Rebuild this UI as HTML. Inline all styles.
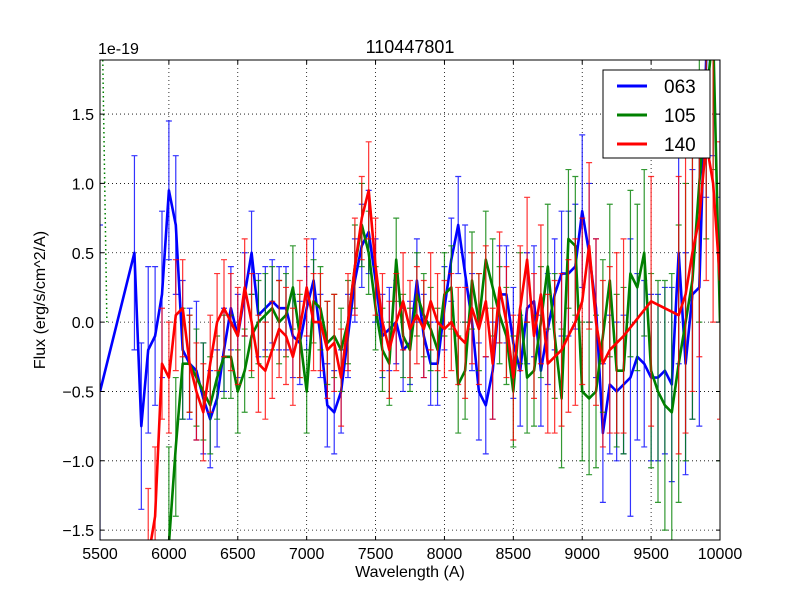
<!DOCTYPE html>
<html><head><meta charset="utf-8">
<style>
html,body{margin:0;padding:0;background:#fff;overflow:hidden;width:800px;height:600px;font-family:"Liberation Sans",sans-serif;}
svg{display:block;}
svg text{font-family:"Liberation Sans",sans-serif;}
</style></head>
<body>
<svg id="chart" width="800" height="600">
<defs><clipPath id="pc"><rect x="100" y="60" width="620" height="480"/></clipPath></defs>
<rect x="0" y="0" width="800" height="600" fill="#fff"/>
<g id="grid"></g>
<g id="series" clip-path="url(#pc)"></g>
<rect x="100" y="60" width="620" height="480" fill="none" stroke="#000" stroke-width="1"/>
<g id="ticks"></g>
<text x="410" y="53" text-anchor="middle" font-size="18">110447801</text>
<text x="98" y="54" font-size="16">1e-19</text>
<text x="410" y="577" text-anchor="middle" font-size="16">Wavelength (A)</text>
<text transform="translate(45,300) rotate(-90)" text-anchor="middle" font-size="16">Flux (erg/s/cm^2/A)</text>
<g>
<rect x="603" y="70" width="107" height="88" fill="#fff" stroke="#000"/>
<line x1="617" y1="86" x2="647" y2="86" stroke="#0000ff" stroke-width="3"/>
<text x="664" y="93" font-size="19">063</text>
<line x1="617" y1="115" x2="647" y2="115" stroke="#008000" stroke-width="3"/>
<text x="664" y="122" font-size="19">105</text>
<line x1="617" y1="144" x2="647" y2="144" stroke="#ff0000" stroke-width="3"/>
<text x="664" y="151" font-size="19">140</text>
</g>
</svg>
<script>
const xTicks=[5500,6000,6500,7000,7500,8000,8500,9000,9500,10000];
const yTicks=[-1.5,-1.0,-0.5,0.0,0.5,1.0,1.5];
const yTickLabels=["\u22121.5","\u22121.0","\u22120.5","0.0","0.5","1.0","1.5"];
const wave063=[5500,5750,5800,5850,5900,5950,6000,6050,6100,6150,6200,6250,6300,6350,6400,6450,6500,6550,6600,6650,6700,6750,6800,6850,6900,6950,7000,7050,7100,7150,7200,7250,7300,7350,7400,7450,7500,7550,7600,7650,7700,7750,7800,7850,7900,7950,8000,8050,8100,8150,8200,8250,8300,8350,8400,8450,8500,8550,8600,8650,8700,8750,8800,8850,8900,8950,9000,9050,9100,9150,9200,9250,9300,9350,9400,9450,9500,9550,9600,9650,9700,9750,9800,9850,9900,9950,10000];
const flux063=[-0.5,0.5,-0.75,-0.2,-0.1,0.2,0.95,0.7,-0.2,-0.3,-0.35,-0.55,-0.7,-0.55,-0.2,0.1,-0.1,0.2,0.5,0.05,0.1,0.15,0.1,0.1,-0.1,-0.15,0.1,0.3,-0.1,-0.6,-0.65,-0.5,-0.1,0.3,0.55,0.65,0.3,-0.1,-0.05,0.0,-0.2,-0.15,0.3,-0.1,-0.3,-0.3,0.1,0.45,0.7,0.35,0.0,-0.5,-0.6,-0.35,0.2,0.2,-0.15,-0.35,0.1,0.15,-0.35,-0.05,0.2,0.35,0.35,0.4,0.8,0.5,0.1,-0.8,-0.45,-0.5,-0.45,-0.4,-0.25,-0.3,-0.4,-0.4,-0.35,-0.45,0.5,-0.3,0.2,0.25,1.9,2.2,1.9];
const err063=[1.2,0.7,0.6,0.6,0.5,0.6,0.5,0.5,0.5,0.4,0.5,0.4,0.35,0.35,0.3,0.3,0.3,0.3,0.3,0.3,0.3,0.3,0.3,0.3,0.3,0.3,0.3,0.3,0.3,0.3,0.3,0.3,0.3,0.3,0.3,0.3,0.3,0.3,0.3,0.3,0.3,0.3,0.3,0.3,0.3,0.3,0.3,0.3,0.35,0.35,0.35,0.35,0.35,0.35,0.35,0.35,0.4,0.4,0.4,0.4,0.4,0.4,0.4,0.45,0.45,0.45,0.55,0.5,0.5,0.5,0.5,0.5,0.5,1.0,0.6,0.6,0.6,0.6,0.6,0.7,0.8,0.8,0.9,1.0,1.0,1.0,1.0];
const wave105=[5950,6000,6050,6100,6150,6200,6250,6300,6350,6400,6450,6500,6550,6600,6650,6700,6750,6800,6850,6900,6950,7000,7050,7100,7150,7200,7250,7300,7350,7400,7450,7500,7550,7600,7650,7700,7750,7800,7850,7900,7950,8000,8050,8100,8150,8200,8250,8300,8350,8400,8450,8500,8550,8600,8650,8700,8750,8800,8850,8900,8950,9000,9050,9100,9150,9200,9250,9300,9350,9400,9450,9500,9550,9600,9650,9700,9750,9800,9850,9900,9950,10000];
const flux105=[-2.5,-1.6,-0.9,-0.3,-0.3,-0.4,-0.5,-0.6,-0.4,-0.25,-0.25,-0.5,-0.35,-0.1,0.0,0.05,0.1,0.0,0.05,0.25,-0.1,-0.5,0.15,0.1,-0.15,-0.1,-0.2,0.0,0.4,0.7,0.5,0.1,-0.2,-0.3,0.45,-0.1,-0.2,0.2,0.05,-0.05,-0.2,0.2,0.25,-0.45,-0.35,0.3,0.0,0.45,0.25,0.05,-0.1,-0.5,0.1,-0.4,-0.35,0.0,0.4,-0.1,-0.55,0.6,0.55,-0.5,-0.55,-0.5,-0.1,0.3,-0.35,-0.35,0.35,0.25,0.5,-0.35,-0.5,-0.6,-0.65,-0.3,0.0,0.3,1.0,1.6,2.1,0.0];
const err105=[0.9,0.7,0.5,0.4,0.35,0.35,0.35,0.35,0.3,0.3,0.3,0.3,0.3,0.3,0.3,0.3,0.3,0.3,0.3,0.3,0.3,0.3,0.3,0.3,0.3,0.3,0.3,0.3,0.3,0.3,0.3,0.3,0.3,0.3,0.3,0.3,0.3,0.3,0.3,0.3,0.3,0.3,0.3,0.35,0.35,0.35,0.35,0.35,0.35,0.35,0.35,0.4,0.4,0.4,0.4,0.4,0.45,0.45,0.5,0.5,0.5,0.5,0.55,0.55,0.55,0.55,0.55,0.6,0.6,0.6,0.6,0.7,0.8,0.9,1.0,1.0,1.0,1.0,1.0,1.0,1.0,1.0];
const wave140=[5850,5900,5950,6000,6050,6100,6150,6200,6250,6300,6350,6400,6450,6500,6550,6600,6650,6700,6750,6800,6850,6900,6950,7000,7050,7100,7150,7200,7250,7300,7350,7400,7450,7500,7550,7600,7650,7700,7750,7800,7850,7900,7950,8000,8050,8100,8150,8200,8250,8300,8350,8400,8450,8500,8550,8600,8650,8700,8750,8800,8850,8900,8950,9000,9050,9100,9150,9200,9250,9300,9500,9700,9750,9800,9850,9900,9950,10000];
const flux140=[-1.7,-1.4,-0.3,-0.4,0.05,0.1,-0.3,-0.5,-0.65,-0.3,0.0,0.1,0.0,-0.1,0.25,0.0,-0.3,-0.35,-0.2,-0.05,-0.1,-0.25,-0.05,0.25,0.0,0.0,-0.2,-0.15,-0.4,0.0,0.4,0.75,0.95,0.4,0.0,-0.2,0.0,0.15,-0.05,0.05,-0.05,0.15,0.0,-0.05,0.0,-0.1,-0.15,0.1,-0.05,0.15,-0.3,0.25,0.0,-0.4,0.1,0.45,-0.1,0.2,-0.3,-0.25,-0.2,-0.1,0.0,0.15,0.55,0.0,-0.3,-0.2,-0.15,-0.1,0.15,0.05,0.2,0.5,0.75,1.3,1.0,0.3];
const err140=[0.5,0.5,0.4,0.4,0.4,0.35,0.35,0.35,0.35,0.35,0.35,0.35,0.35,0.35,0.35,0.35,0.35,0.35,0.35,0.35,0.35,0.35,0.35,0.35,0.35,0.35,0.35,0.35,0.35,0.35,0.35,0.3,0.35,0.35,0.35,0.35,0.35,0.35,0.35,0.35,0.35,0.35,0.35,0.35,0.35,0.35,0.4,0.4,0.4,0.4,0.4,0.4,0.4,0.45,0.45,0.45,0.45,0.5,0.5,0.55,0.55,0.55,0.6,0.6,0.6,0.6,0.6,0.6,0.65,0.7,0.9,1.0,1.0,1.0,1.0,1.0,1.0,1.0];

const NS='http://www.w3.org/2000/svg';
const X0=5500,X1=10000,PX0=100,PX1=720,YMIN=-1.5711,YMAX=1.89,PY0=540,PY1=60;
function sx(v){return PX0+(v-X0)/(X1-X0)*(PX1-PX0);}
function sy(v){return PY0-(v-YMIN)/(YMAX-YMIN)*(PY0-PY1);}
function clampPlot(y){return Math.max(PY1,Math.min(PY0,y));}
function clampPage(y){return Math.max(2,Math.min(598,y));}
function mk(tag,attrs,parent){const e=document.createElementNS(NS,tag);for(const k in attrs)e.setAttribute(k,attrs[k]);parent.appendChild(e);return e;}
const grid=document.getElementById('grid'),ticks=document.getElementById('ticks'),ser=document.getElementById('series');
xTicks.forEach(t=>{
  const x=sx(t);
  if(t>X0&&t<X1){const g=mk('line',{x1:x,x2:x,y1:PY1,y2:PY0,stroke:'#000','stroke-width':0.8,'stroke-dasharray':'1,3'},grid);
  
  }
  const tk=mk('path',{d:`M${x},${PY0}v-4M${x},${PY1}v4`,stroke:'#000'},ticks);
  
  
  const lb=mk('text',{x:x,y:PY0+19,'text-anchor':'middle','font-size':16},ticks);lb.textContent=t;
  
  
});
yTicks.forEach((t,i)=>{
  const y=sy(t);
  const g=mk('line',{x1:PX0,x2:PX1,y1:y,y2:y,stroke:'#000','stroke-width':0.8,'stroke-dasharray':'1,3'},grid);
  
  
  const tk=mk('path',{d:`M${PX0},${y}h4M${PX1},${y}h-4`,stroke:'#000'},ticks);
  
  
  const lb=mk('text',{x:PX0-6,y:y+6,'text-anchor':'end','font-size':16},ticks);lb.textContent=yTickLabels[i];
  
  
});
const dg=mk('path',{d:`M${sx(5520)},${PY1}L${sx(5550)},${sy(0)}`,stroke:'#008000','stroke-width':1.5,'stroke-dasharray':'1.5,3',fill:'none'},ser);


function draw(w,f,e,col,name){
  const g=mk('g',{},ser);
  
  
  w.forEach((wv,i)=>{
    const x=sx(wv);
    const rawLo=sy(f[i]-e[i]),rawHi=sy(f[i]+e[i]);
    const y0=clampPlot(rawLo),y1=clampPlot(rawHi);
    if(y0===y1) return;
    let d=`M${x},${y0}V${y1}`;
    if(rawLo<=PY0) d+=`M${x-3},${y0}h6`;
    if(rawHi>=PY1) d+=`M${x-3},${y1}h6`;
    const b=mk('path',{d:d,stroke:col,'stroke-width':1.2,'stroke-opacity':0.8,fill:'none'},g);
    
    
  });
  const d=w.map((wv,i)=>(i?'L':'M')+sx(wv).toFixed(1)+','+clampPage(sy(f[i])).toFixed(1)).join('');
  const l=mk('path',{d:d,stroke:col,'stroke-width':2.6,fill:'none','stroke-linejoin':'round'},g);
  
  
}
draw(wave063,flux063,err063,'#0000ff','063');
draw(wave105,flux105,err105,'#008000','105');
draw(wave140,flux140,err140,'#ff0000','140');
</script>
</body></html>
